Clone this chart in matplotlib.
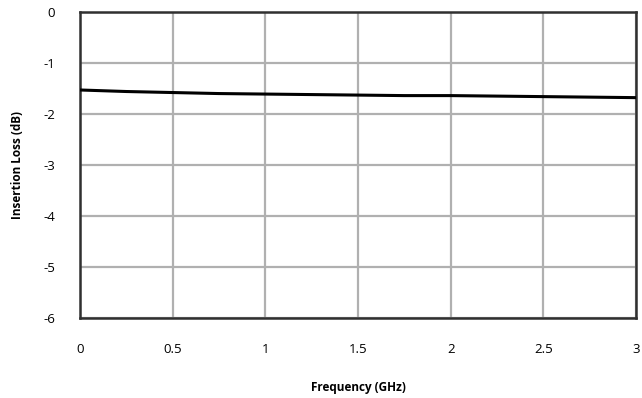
import numpy as np
import matplotlib.pyplot as plt

freq = [0.0, 0.25, 0.5, 0.75, 1.0, 1.25, 1.5, 1.75, 2.0, 2.25, 2.5, 2.75, 3.0]
loss = [-1.53, -1.56, -1.58, -1.60, -1.61, -1.62, -1.63, -1.64, -1.64, -1.65, -1.66, -1.67, -1.68]

x_ticks = [0, 0.5, 1, 1.5, 2, 2.5, 3]
x_labels = ['0', '0.5', '1', '1.5', '2', '2.5', '3']
y_ticks = [0, -1, -2, -3, -4, -5, -6]
y_labels = ['0', '-1', '-2', '-3', '-4', '-5', '-6']

plt.rcParams['font.family'] = ['Open Sans', 'DejaVu Sans']

fig = plt.figure(figsize=(6.42, 3.98), dpi=100)
ax = fig.add_axes([0.1246, 0.201, 0.866, 0.769])

ax.plot(freq, loss, color='black', linewidth=2.2, zorder=3)

ax.set_xlim(0, 3)
ax.set_ylim(-6, 0)
ax.set_xticks(x_ticks)
ax.set_xticklabels(x_labels)
ax.set_yticks(y_ticks)
ax.set_yticklabels(y_labels)
ax.tick_params(length=0, labelsize=9.5)
ax.tick_params(axis='x', pad=18)
ax.tick_params(axis='y', pad=18)
ax.grid(True, color='#b0b0b0', linewidth=1.6)
for s in ax.spines.values():
    s.set_color('#303030')
    s.set_linewidth(1.8)

ax.set_xlabel('Frequency (GHz)', fontsize=8.5, fontweight='bold', labelpad=18)
ax.set_ylabel('Insertion Loss (dB)', fontsize=8.5, fontweight='bold', labelpad=14)

fig.savefig('out.png', dpi=100)
